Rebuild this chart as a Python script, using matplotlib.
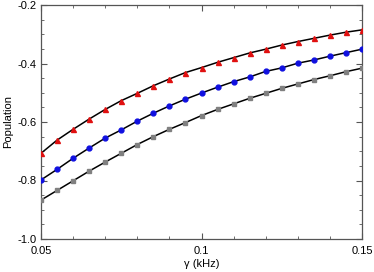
import numpy as np
import matplotlib
matplotlib.use("Agg")
import matplotlib.pyplot as plt
from matplotlib.ticker import MultipleLocator

plt.rcParams["font.family"] = ["Liberation Sans", "DejaVu Sans"]
plt.rcParams["axes.unicode_minus"] = False

# gamma values (kHz) where markers sit
gamma = [0.05, 0.055, 0.06, 0.065, 0.07, 0.075, 0.08, 0.085, 0.09, 0.095, 0.10,
         0.105, 0.11, 0.115, 0.12, 0.125, 0.13, 0.135, 0.14, 0.145, 0.15]

red_pop = [-0.707, -0.662, -0.625, -0.590, -0.557, -0.527, -0.502, -0.476, -0.453,
           -0.431, -0.414, -0.396, -0.380, -0.364, -0.351, -0.337, -0.325, -0.314,
           -0.303, -0.293, -0.285]
blue_pop = [-0.798, -0.762, -0.724, -0.689, -0.655, -0.627, -0.597, -0.570, -0.545,
            -0.522, -0.501, -0.481, -0.462, -0.446, -0.427, -0.415, -0.399, -0.388,
            -0.375, -0.363, -0.351]
grey_pop = [-0.867, -0.834, -0.801, -0.768, -0.737, -0.707, -0.677, -0.650, -0.625,
            -0.602, -0.578, -0.557, -0.538, -0.519, -0.502, -0.485, -0.470, -0.455,
            -0.442, -0.428, -0.416]

fig = plt.figure(figsize=(3.74, 2.72), dpi=100)
ax = fig.add_axes([41 / 374, 1 - 239 / 272, 321 / 374, 234 / 272])

for ys in (red_pop, blue_pop, grey_pop):
    ax.plot(gamma, ys, color="black", lw=1.1, zorder=2)

ax.plot(gamma, red_pop, ls="none", marker="^", ms=3.6, color="#e01010", mec="#e01010", zorder=3)
ax.plot(gamma, blue_pop, ls="none", marker="o", ms=3.5, color="#1010e0", mec="#1010e0", zorder=3)
ax.plot(gamma, grey_pop, ls="none", marker="s", ms=3.0, color="#808080", mec="#808080", zorder=3)

ax.set_xlim(0.05, 0.15)
ax.set_ylim(-1.0, -0.2)
ax.xaxis.set_minor_locator(MultipleLocator(0.01))
ax.yaxis.set_minor_locator(MultipleLocator(0.05))
ax.set_xticks([0.05, 0.1, 0.15])
ax.set_xticklabels(["0.05", "0.1", "0.15"])
ax.set_yticks([-1.0, -0.8, -0.6, -0.4, -0.2])
ax.set_yticklabels(["-1.0", "-0.8", "-0.6", "-0.4", "-0.2"])

ax.tick_params(which="both", direction="in", top=True, right=True, color="#555555", labelsize=8)
ax.tick_params(axis="x", pad=5)
ax.tick_params(which="major", length=4, width=0.8)
ax.tick_params(which="minor", length=2.5, width=0.6)
for s in ax.spines.values():
    s.set_color("#555555")
    s.set_linewidth(0.9)

ax.set_xlabel("γ (kHz)", fontsize=8, labelpad=2)
ax.set_ylabel("Population", fontsize=8, labelpad=3)

fig.savefig("out.png", dpi=100)
